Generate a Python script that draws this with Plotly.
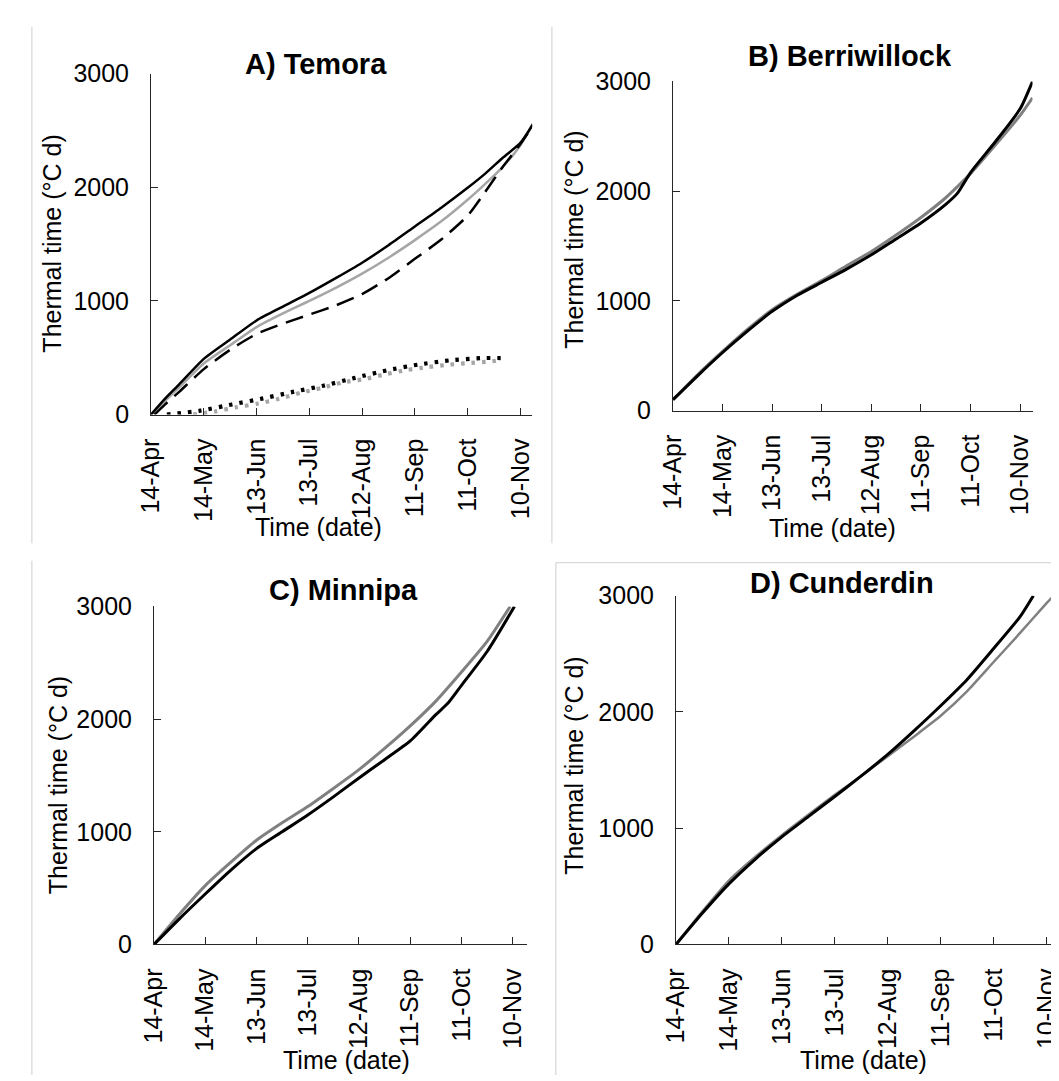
import pandas as pd
import plotly.graph_objects as go

W, H = 1059, 1081
START = pd.Timestamp("2015-04-14")

# ---- tick labels (date axis, every 30 days from 14-Apr) ----
tick_days = [0, 30, 60, 90, 120, 150, 180, 210]
tick_text = ["14-Apr", "14-May", "13-Jun", "13-Jul", "12-Aug", "11-Sep", "11-Oct", "10-Nov"]
y_ticks = [0, 1000, 2000, 3000]

# ---- A) Temora ----
a_days = [0, 8, 16, 30, 45, 60, 75, 90, 105, 120, 135, 150, 165, 180, 190, 200, 210, 217]
a_black = [0, 140, 266, 490, 660, 828, 950, 1070, 1200, 1336, 1490, 1655, 1820, 1995, 2120, 2260, 2390, 2550]
a_grey = [0, 120, 240, 450, 610, 770, 890, 1000, 1115, 1240, 1380, 1535, 1700, 1890, 2030, 2180, 2370, 2560]
a_dash_days = [2, 8, 16, 30, 45, 60, 75, 90, 105, 120, 135, 150, 165, 180, 190, 200, 210, 217]
a_dash = [0, 90, 200, 400, 570, 710, 800, 880, 960, 1060, 1200, 1370, 1540, 1750, 1960, 2180, 2380, 2540]
a_dot_black_days = [9, 28, 46, 63, 80, 98, 116, 134, 152, 170, 188, 201]
a_dot_black = [0, 34, 89, 140, 197, 254, 323, 389, 440, 477, 497, 497]
a_dot_grey_days = [24, 36, 48, 61, 73, 85, 97, 109, 121, 133, 145, 157, 170, 182, 194, 200]
a_dot_grey = [0, 26, 63, 97, 140, 191, 234, 283, 311, 354, 391, 417, 440, 454, 469, 483]

# ---- B) Berriwillock ----
b_days = [0, 15, 30, 45, 60, 75, 90, 105, 120, 135, 150, 165, 172, 180, 195, 210, 217.5]
b_black = [100, 320, 530, 725, 905, 1050, 1170, 1290, 1420, 1565, 1710, 1880, 1980, 2170, 2450, 2750, 3000]
b_grey = [100, 330, 540, 740, 920, 1060, 1185, 1320, 1450, 1600, 1760, 1940, 2040, 2160, 2420, 2690, 2850]

# ---- C) Minnipa ----
c_days_black = [0, 15, 30, 45, 60, 75, 90, 105, 120, 135, 150, 165, 172, 180, 195, 211]
c_black = [0, 230, 448, 660, 851, 1000, 1149, 1310, 1478, 1640, 1806, 2040, 2140, 2300, 2600, 3000]
c_days_grey = [0, 15, 30, 45, 60, 75, 90, 105, 120, 135, 150, 165, 180, 195, 208.5]
c_grey = [0, 270, 522, 730, 925, 1080, 1224, 1385, 1552, 1740, 1940, 2160, 2418, 2690, 3000]

# ---- D) Cunderdin ----
d_days_black = [0, 15, 30, 45, 60, 75, 90, 105, 120, 135, 150, 165, 180, 195, 202.5]
d_black = [0, 270, 521, 735, 926, 1100, 1273, 1450, 1635, 1840, 2054, 2280, 2546, 2820, 3000]
d_days_grey = [0, 15, 30, 45, 60, 75, 90, 105, 120, 135, 150, 165, 180, 195, 210, 214]
d_grey = [0, 285, 550, 755, 940, 1115, 1287, 1450, 1620, 1790, 1967, 2180, 2430, 2680, 2936, 3000]


def to_dates(days):
    return [START + pd.Timedelta(days=d) for d in days]


FONT = "Liberation Sans, Arial, sans-serif"
fig = go.Figure()

# panel boxes in pixels: x0, x1, y_top(3000), y_bottom(0), last day on axis
panels = [
    dict(n="", x0=130, x1=517, yt=53, yb=403, dmax=216.7, title="A) Temora", tx=298, ty=43,
         ytx=30, yty=228, xtx=300, xty=518),
    dict(n="2", x0=660, x1=1025, yt=61, yb=399, dmax=217.5, title="B) Berriwillock", tx=840, ty=35,
         ytx=560, yty=224, xtx=822, xty=519),
    dict(n="3", x0=133, x1=512, yt=600, yb=947, dmax=218.5, title="C) Minnipa", tx=325, ty=583,
         ytx=35, yty=783, xtx=328, xty=1066),
    dict(n="4", x0=663, x1=1059, yt=589, yb=947, dmax=221, title="D) Cunderdin", tx=832, ty=576,
         ytx=560, yty=764, xtx=853, xty=1066),
]

def line(days, vals, n, color, width, dash="solid"):
    fig.add_trace(go.Scatter(x=to_dates(days), y=vals, mode="lines", xaxis="x" + n, yaxis="y" + n,
                             line=dict(color=color, width=width, dash=dash, shape="spline",
                                       smoothing=0.6),
                             showlegend=False))

# A
line(a_dot_grey_days, a_dot_grey, "", "#a6a6a6", 4.2, "3.5px,7px")
line(a_dot_black_days, a_dot_black, "", "#000000", 4.2, "3.5px,7px")
line(a_days, a_grey, "", "#a6a6a6", 2.5)
line(a_dash_days, a_dash, "", "#000000", 2.5, "18px,9px")
line(a_days, a_black, "", "#000000", 2.5)
# B
line(b_days, b_grey, "2", "#808080", 3)
line(b_days, b_black, "2", "#000000", 3)
# C
line(c_days_grey, c_grey, "3", "#808080", 3)
line(c_days_black, c_black, "3", "#000000", 3)
# D
line(d_days_grey, d_grey, "4", "#808080", 2.5)
line(d_days_black, d_black, "4", "#000000", 3)

annotations = []
for p in panels:
    n = p["n"]
    fig.layout["xaxis" + n] = dict(
        domain=[p["x0"] / W, p["x1"] / W], anchor="y" + n,
        range=[START, START + pd.Timedelta(days=p["dmax"])],
        tickvals=to_dates(tick_days), ticktext=tick_text, tickangle=-90,
        ticks="inside", ticklen=7, tickcolor="#262626", showline=True, linecolor="#262626",
        linewidth=1, showgrid=False, zeroline=False, ticklabelstandoff=13,
        tickfont=dict(family=FONT, size=25, color="black"))
    fig.layout["yaxis" + n] = dict(
        domain=[1 - p["yb"] / H, 1 - p["yt"] / H], anchor="x" + n, range=[0, 3000],
        tickvals=y_ticks, ticks="inside", ticklen=7, tickcolor="#262626", showline=True,
        linecolor="#262626", linewidth=1, showgrid=False, zeroline=False, ticklabelstandoff=16,
        tickfont=dict(family=FONT, size=25, color="black"))
    annotations.append(dict(text="<b>%s</b>" % p["title"], x=p["tx"] / W, y=1 - p["ty"] / H,
                            xref="paper", yref="paper", showarrow=False, xanchor="center",
                            yanchor="middle", font=dict(family=FONT, size=29, color="black")))
    annotations.append(dict(text="Thermal time (°C d)", x=p["ytx"] / W, y=1 - p["yty"] / H,
                            xref="paper", yref="paper", showarrow=False, textangle=-90,
                            xanchor="center", yanchor="middle",
                            font=dict(family=FONT, size=25, color="black")))
    annotations.append(dict(text="Time (date)", x=p["xtx"] / W, y=1 - p["xty"] / H,
                            xref="paper", yref="paper", showarrow=False, xanchor="center",
                            yanchor="middle", font=dict(family=FONT, size=25, color="black")))

# light grey chart-area borders
border = dict(type="line", xref="paper", yref="paper", line=dict(color="#d9d9d9", width=1.3))
shapes = [
    dict(border, x0=9 / W, x1=9 / W, y0=1 - 5 / H, y1=1 - 535 / H),
    dict(border, x0=537 / W, x1=537 / W, y0=1 - 5 / H, y1=1 - 535 / H),
    dict(border, x0=9 / W, x1=9 / W, y0=1 - 553 / H, y1=0),
    dict(border, x0=541 / W, x1=1, y0=1 - 555 / H, y1=1 - 555 / H),
    dict(border, x0=541 / W, x1=541 / W, y0=1 - 555 / H, y1=0),
]

fig.update_layout(width=W, height=H, margin=dict(l=0, r=0, t=0, b=0),
                  paper_bgcolor="white", plot_bgcolor="white",
                  annotations=annotations, shapes=shapes,
                  font=dict(family=FONT, color="black"))

fig.write_html("out.html")
